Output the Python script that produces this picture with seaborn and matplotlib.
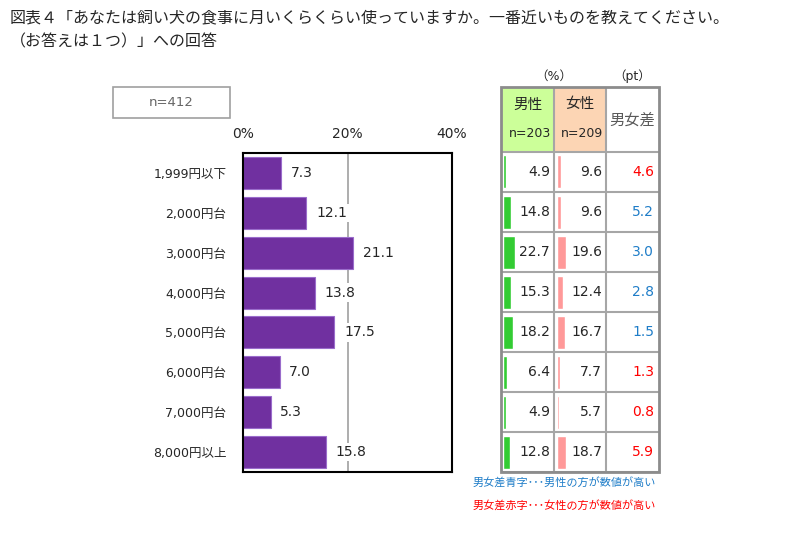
import matplotlib
matplotlib.use("Agg")
import matplotlib.pyplot as plt
import matplotlib.patches as patches
import seaborn as sns

# data
categories = ["1,999円以下", "2,000円台", "3,000円台", "4,000円台",
              "5,000円台", "6,000円台", "7,000円台", "8,000円以上"]
total = [7.3, 12.1, 21.1, 13.8, 17.5, 7.0, 5.3, 15.8]
male = [4.9, 14.8, 22.7, 15.3, 18.2, 6.4, 4.9, 12.8]
female = [9.6, 9.6, 19.6, 12.4, 16.7, 7.7, 5.7, 18.7]
diff = [4.6, 5.2, 3.0, 2.8, 1.5, 1.3, 0.8, 5.9]
xticks = [0, 20, 40]
xtick_labels = ["0%", "20%", "40%"]

title_1 = "図表４「あなたは飼い犬の食事に月いくらくらい使っていますか。一番近いものを教えてください。"
title_2 = "（お答えは１つ）」への回答"

sns.set_style("white")
plt.rcParams['font.family'] = ['DejaVu Sans', 'Noto Sans CJK JP']

W, H = 810, 548
fig = plt.figure(figsize=(W / 100, H / 100), dpi=100)


def fx(x):
    return x / W


def fy(y):
    return 1 - y / H


# title
fig.text(fx(10), fy(18), title_1, va="center", ha="left", fontsize=11.5)
fig.text(fx(10), fy(42), title_2, va="center", ha="left", fontsize=11.5)

# n box
fig.patches.append(patches.Rectangle((fx(113), fy(118)), fx(117), 31 / H,
                                     transform=fig.transFigure, fill=False,
                                     ec="#a0a0a0", lw=1.2))
fig.text(fx(171.5), fy(102.5), "n=412", ha="center", va="center",
         fontsize=9.5, color="#666666")

# main bar chart
ax = fig.add_axes([fx(243), 76 / H, 209 / W, 319 / H])
sns.barplot(x=total, y=categories, orient="h", color="#7030A0", saturation=1,
            width=0.8, edgecolor="#9a6ccb", linewidth=0.8, ax=ax, zorder=2)
ax.axvline(20, color="#a0a0a0", lw=1.2, zorder=1)
ax.set_xlim(0, 40)
ax.set_xticks(xticks)
ax.set_xticklabels(xtick_labels, fontsize=10)
ax.xaxis.tick_top()
ax.tick_params(axis="x", length=0, pad=9)
ax.tick_params(axis="y", length=0, pad=12, labelsize=9)
ax.set_xlabel("")
ax.set_ylabel("")
for s in ax.spines.values():
    s.set_visible(True)
    s.set_color("black")
    s.set_linewidth(1.5)
ax.bar_label(ax.containers[0], fmt="%.1f", padding=7, fontsize=10,
             bbox=dict(fc="white", ec="none", pad=1.5), zorder=3)

# side table (units are pixels inside the table)
tw, th = 158, 385
hdr = 65
rowh = 40
cols = [0, 53, 105, 158]
tax = fig.add_axes([fx(501), 76 / H, tw / W, th / H])
tax.set_xlim(0, tw)
tax.set_ylim(th, 0)
tax.axis("off")

tax.add_patch(patches.Rectangle((cols[0], 0), cols[1] - cols[0], hdr,
                                fc="#CCFF99", ec="none", zorder=0))
tax.add_patch(patches.Rectangle((cols[1], 0), cols[2] - cols[1], hdr,
                                fc="#FCD5B4", ec="none", zorder=0))

centers = [hdr + rowh * i + rowh / 2 for i in range(len(male))]
tax.barh(centers, [v * 0.5 for v in male], left=cols[0] + 2.5, height=33,
         color="#33CC33", zorder=1)
tax.barh(centers, [v * 0.5 for v in female], left=cols[1] + 2.5, height=33,
         color="#FF9999", zorder=1)

for i in range(len(male) + 1):
    tax.plot([0, tw], [hdr + rowh * i] * 2, color="#a6a6a6", lw=1.5, zorder=2)
for c in cols[1:-1]:
    tax.plot([c, c], [0, th], color="#a6a6a6", lw=1.5, zorder=2)
tax.add_patch(patches.Rectangle((0, 0), tw, th, fill=False, ec="#8c8c8c",
                                lw=2, zorder=3, clip_on=False))

for y, m, f, d in zip(centers, male, female, diff):
    tax.text(cols[1] - 4, y, f"{m:.1f}", ha="right", va="center", fontsize=10)
    tax.text(cols[2] - 4, y, f"{f:.1f}", ha="right", va="center", fontsize=10)
    c = "#1F7DC8" if m > f else "#FF0000"
    tax.text(cols[3] - 5, y, f"{d:.1f}", ha="right", va="center",
             fontsize=10, color=c)

tax.text(26.5, 17, "男性", ha="center", va="center", fontsize=10.5)
tax.text(79, 17, "女性", ha="center", va="center", fontsize=10.5)
tax.text(cols[1] - 3, 47, "n=203", ha="right", va="center", fontsize=9)
tax.text(cols[2] - 3, 47, "n=209", ha="right", va="center", fontsize=9)
tax.text(131.5, 33, "男女差", ha="center", va="center", fontsize=11,
         color="#595959")

fig.text(fx(554), fy(76), "（%）", ha="center", va="center", fontsize=9)
fig.text(fx(632), fy(76), "（pt）", ha="center", va="center", fontsize=9)

fig.text(fx(473), fy(483), "男女差青字･･･男性の方が数値が高い", ha="left",
         va="center", fontsize=8, color="#1F7DC8")
fig.text(fx(473), fy(506), "男女差赤字･･･女性の方が数値が高い", ha="left",
         va="center", fontsize=8, color="#FF0000")

fig.savefig("out.png", dpi=100)
